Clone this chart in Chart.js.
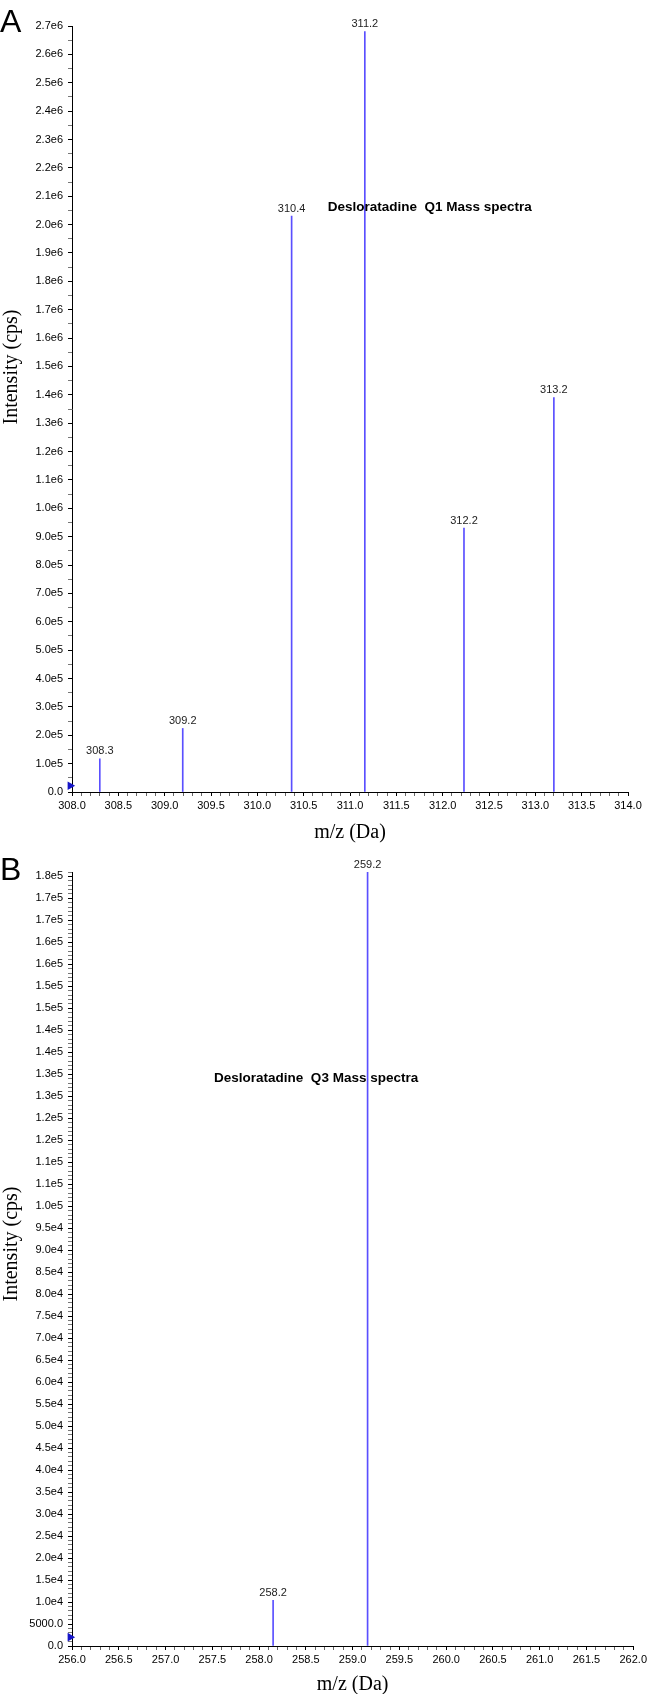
<!DOCTYPE html>
<html lang="en">
<head>
  <meta charset="UTF-8">
  <title>Desloratadine mass spectra</title>
  <style>
    body { margin: 0; background: #fff; }
    .panel { position: absolute; left: 0; width: 650px; height: 847px; }
    #panelA { top: 0; }
    #panelB { top: 847px; }
  </style>
</head>
<body>
  <div class="panel" id="panelA"><canvas id="chartA"></canvas></div>
  <div class="panel" id="panelB"><canvas id="chartB"></canvas></div>

  <script src="https://cdn.jsdelivr.net/npm/chart.js"></script>
  <script>
    // Q1 spectrum (panel A)
    const mzA = [308.30, 309.195, 310.37, 311.16, 312.23, 313.20];
    const intensityA = [1.17e5, 2.24e5, 2.03e6, 2.68e6, 9.3e5, 1.39e6];
    const peakLabelsA = ['308.3', '309.2', '310.4', '311.2', '312.2', '313.2'];
    const xRangeA = [308, 314];
    const yMaxA = 2.7e6;

    // Q3 spectrum (panel B)
    const mzB = [258.15, 259.16];
    const intensityB = [1.04e4, 1.76e5];
    const peakLabelsB = ['258.2', '259.2'];
    const xRangeB = [256, 262];
    const yMaxB = 1.76e5;

    const SANS = 'Arial, "Liberation Sans", sans-serif';
    const SERIF = '"Times New Roman", "Liberation Serif", serif';
    Chart.defaults.font.family = SANS;
    Chart.defaults.font.size = 11;
    Chart.defaults.color = '#000';

    function sciLabel(v) {
      if (v === 0) return '0.0';
      if (v < 1e4) return v.toFixed(1);
      return v.toExponential(1).replace('e+', 'e');
    }

    // letters, axis titles, the note and the peak labels
    const decor = {
      id: 'decor',
      afterDraw(chart, args, o) {
        const { ctx, chartArea: a, scales: { x, y } } = chart;
        ctx.save();
        ctx.fillStyle = '#000';
        ctx.font = '32px ' + SANS;
        ctx.textAlign = 'left';
        ctx.textBaseline = 'alphabetic';
        ctx.fillText(o.letter, 0, o.letterBase);

        ctx.font = '20px ' + SERIF;
        ctx.textAlign = 'center';
        ctx.textBaseline = 'middle';
        ctx.fillText(o.xTitle, (a.left + a.right) / 2, a.bottom + o.xTitleGap);
        ctx.save();
        ctx.translate(12, o.yTitleMid);
        ctx.rotate(-Math.PI / 2);
        ctx.fillText(o.yTitle, 0, 0);
        ctx.restore();

        ctx.font = 'bold 13.5px ' + SANS;
        ctx.fillText(o.note, x.getPixelForValue(o.noteAt[0]), y.getPixelForValue(o.noteAt[1]));

        ctx.font = '11px ' + SANS;
        ctx.fillStyle = '#222';
        ctx.textBaseline = 'bottom';
        chart.getDatasetMeta(0).data.forEach((bar, i) => {
          ctx.fillText(o.labels[i], bar.x, bar.y - 2);
        });
        ctx.restore();
      }
    };

    function makeChart(id, p) {
      return new Chart(document.getElementById(id), {
        type: 'bar',
        data: {
          datasets: [{
            data: p.mz.map((m, i) => ({ x: m, y: p.intensity[i] })),
            backgroundColor: '#5a4fff',
            borderWidth: 0,
            barThickness: 1,
            grouped: false
          }, {
            type: 'scatter',
            data: [p.marker],
            pointStyle: 'triangle',
            rotation: 90,
            radius: 5,
            backgroundColor: '#1515c8',
            borderWidth: 0,
            clip: false
          }]
        },
        options: {
          responsive: true,
          maintainAspectRatio: false,
          animation: false,
          events: [],
          layout: { padding: { top: p.padTop, right: p.padRight, left: 0, bottom: 0 } },
          plugins: {
            legend: { display: false },
            tooltip: { enabled: false },
            decor: p.decor
          },
          scales: {
            x: {
              type: 'linear',
              offset: false,
              min: p.xRange[0],
              max: p.xRange[1],
              afterFit: s => { s.height = p.xHeight; },
              border: { color: '#000', width: 1 },
              grid: {
                drawOnChartArea: false,
                offset: false,
                tickLength: 4,
                tickColor: c => (Math.round(c.tick.value * 10) % 5 === 0 ? '#000' : '#666')
              },
              ticks: {
                stepSize: 0.1,
                autoSkip: false,
                maxRotation: 0,
                minRotation: 0,
                padding: 3,
                callback: v => (Math.round(v * 10) % 5 === 0 ? Number(v).toFixed(1) : '')
              }
            },
            y: {
              min: 0,
              max: p.yMax,
              afterFit: s => { s.width = 72; },
              border: { color: '#000', width: 1 },
              grid: {
                drawOnChartArea: false,
                tickLength: 4,
                tickColor: c => (Math.round(c.tick.value / p.minor) % p.every === 0 ? '#000' : '#777')
              },
              ticks: {
                stepSize: p.minor,
                includeBounds: false,
                autoSkip: false,
                padding: 5,
                callback: v => (Math.round(v / p.minor) % p.every === 0 ? sciLabel(v) : '')
              }
            }
          }
        },
        plugins: [decor]
      });
    }

    makeChart('chartA', {
      mz: mzA, intensity: intensityA, xRange: xRangeA, yMax: yMaxA,
      minor: 5e4, every: 2, padTop: 26, padRight: 22, xHeight: 55,
      marker: { x: 307.98, y: 2.2e4 },
      decor: {
        letter: 'A', letterBase: 32,
        xTitle: 'm/z (Da)', xTitleGap: 41,
        yTitle: 'Intensity (cps)', yTitleMid: 367,
        note: 'Desloratadine  Q1 Mass spectra', noteAt: [311.86, 2.06e6],
        labels: peakLabelsA
      }
    });

    makeChart('chartB', {
      mz: mzB, intensity: intensityB, xRange: xRangeB, yMax: yMaxB,
      minor: 1000, every: 5, padTop: 25, padRight: 14, xHeight: 48,
      marker: { x: 255.98, y: 2000 },
      decor: {
        letter: 'B', letterBase: 33,
        xTitle: 'm/z (Da)', xTitleGap: 39,
        yTitle: 'Intensity (cps)', yTitleMid: 397,
        note: 'Desloratadine  Q3 Mass spectra', noteAt: [258.61, 1.29e5],
        labels: peakLabelsB
      }
    });
  </script>
</body>
</html>
